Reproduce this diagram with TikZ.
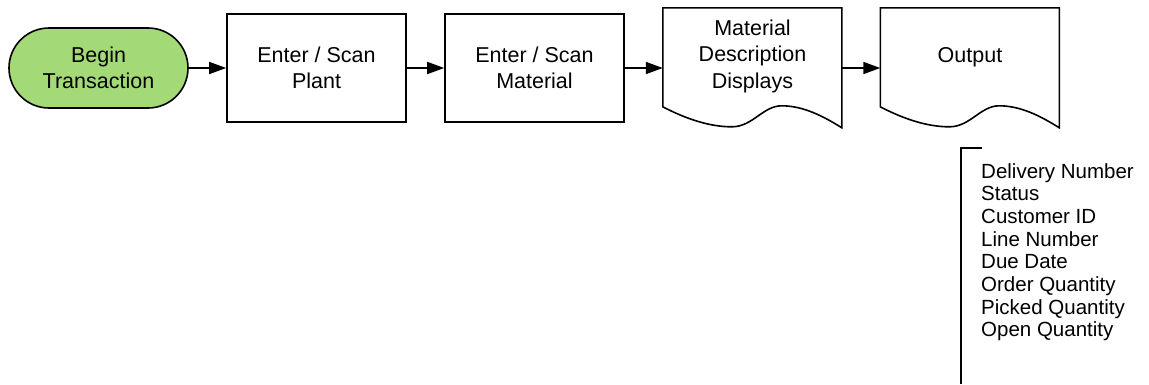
\documentclass[tikz,border=0pt]{standalone}
\usepackage{fontspec}
\setmainfont{Liberation Sans}
\usetikzlibrary{arrows.meta}
\definecolor{startgreen}{RGB}{164,217,119}
\begin{document}
\begin{tikzpicture}[x=1pt,y=-1pt,
  outline/.style={draw=black,line width=1.6pt},
  maintext/.style={font=\fontsize{21.5}{26.5}\selectfont,align=center,text=black},
  term/.style={outline,maintext,fill=startgreen,rounded corners=40pt,minimum width=179pt,minimum height=80pt,inner sep=0pt},
  proc/.style={outline,maintext,fill=white,minimum width=179pt,minimum height=108pt,inner sep=0pt},
  docnode/.style={draw=none,minimum width=179pt,minimum height=120pt,inner sep=0pt},
  flow/.style={draw=black,line width=1.6pt,-{Triangle[length=17pt,width=12pt]}},
  listtext/.style={font=\fontsize{20.5}{22.7}\selectfont,align=left,inner sep=0pt,anchor=north west}
]
\fill[white] (0,0) rectangle (1149,384);
\useasboundingbox (0,0) rectangle (1149,384);

\node[term] (begin) at (98.5,68) {Begin\\Transaction};
\node[proc] (plant) at (316.5,68) {Enter / Scan\\Plant};
\node[proc] (mat) at (534.5,68) {Enter / Scan\\Material};
\node[docnode] (desc) at (752.5,68) {};
\node[docnode] (out) at (970,68) {};

\begin{scope}[shift={(desc.north west)}]
  \draw[outline] (0,99) -- (0,0) -- (179,0) -- (179,120)
    .. controls (160,108) and (140,98) .. (119,98)
    .. controls (100,98) and (90,119) .. (69,119)
    .. controls (48,119) and (25,112) .. (0,99) -- cycle;
\end{scope}
\begin{scope}[shift={(out.north west)}]
  \draw[outline] (0,99) -- (0,0) -- (179,0) -- (179,120)
    .. controls (160,108) and (140,98) .. (119,98)
    .. controls (100,98) and (90,119) .. (69,119)
    .. controls (48,119) and (25,112) .. (0,99) -- cycle;
\end{scope}

\node[maintext] (desctext) at (752.5,56) {Material\\Description\\Displays};
\node[maintext] (outtext) at (970,57) {Output};

\draw[flow] (begin) -- (plant);
\draw[flow] (plant) -- (mat);
\draw[flow] (mat) -- (desc);
\draw[flow] (desc) -- (out);

\coordinate (brtop) at (982,148);
\coordinate (brcorner) at (961,148);
\coordinate (brbottom) at (961,384);
\draw[outline] (brtop) -- (brcorner) -- (brbottom);

\node[listtext] (list) at (981,163) {Delivery Number\\Status\\Customer ID\\Line Number\\Due Date\\Order Quantity\\Picked Quantity\\Open Quantity};
\end{tikzpicture}
\end{document}
